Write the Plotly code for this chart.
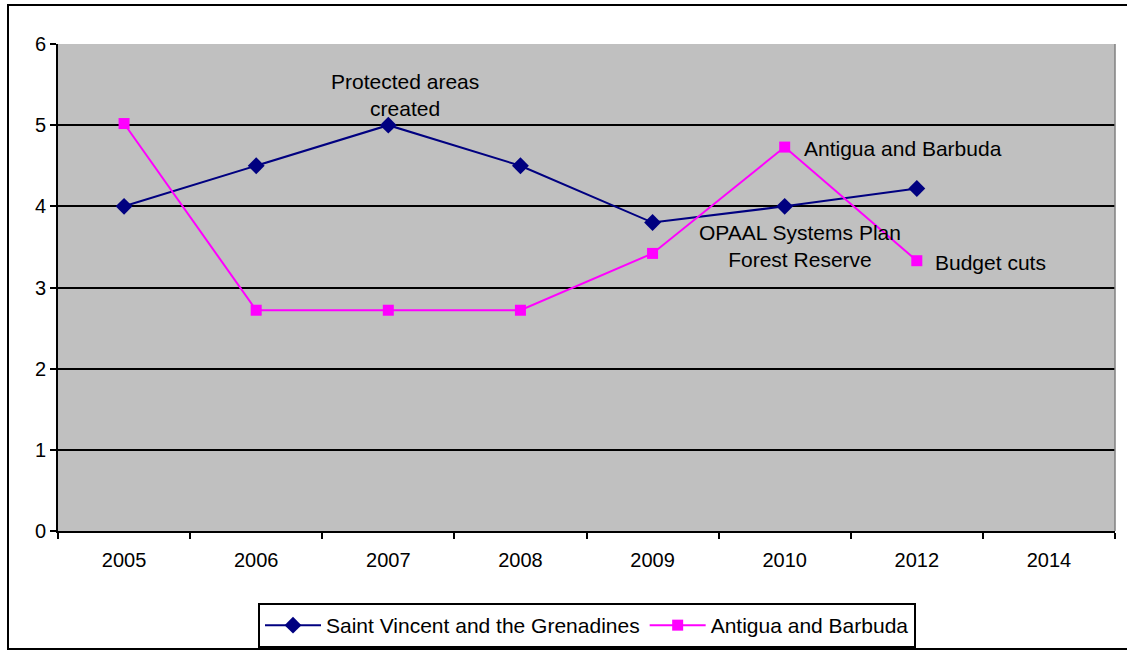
import plotly.graph_objects as go

years = ["2005", "2006", "2007", "2008", "2009", "2010", "2012", "2014"]
svg_values = [4.0, 4.5, 5.0, 4.5, 3.8, 4.0, 4.22, None]
ab_values = [5.02, 2.72, 2.72, 2.72, 3.42, 4.73, 3.33, None]
y_ticks = [0, 1, 2, 3, 4, 5, 6]

FONT = "Liberation Sans, Arial, sans-serif"
FS = 20
FS_TXT = 21

fig = go.Figure()
fig.add_trace(go.Scatter(
    x=years, y=svg_values, mode="lines+markers",
    name="Saint Vincent and the Grenadines",
    line=dict(color="#000080", width=2),
    marker=dict(symbol="diamond", size=13, color="#000080"),
))
fig.add_trace(go.Scatter(
    x=years, y=ab_values, mode="lines+markers",
    name="Antigua and Barbuda",
    line=dict(color="#FF00FF", width=2),
    marker=dict(symbol="square", size=11, color="#FF00FF"),
))

# annotation x given as category index (numeric-looking category names would be read as indices)
annotations = [
    dict(x=years.index("2007"), y=5.37, text="Protected areas<br>created", xshift=17, xanchor="center", yanchor="middle"),
    dict(x=years.index("2010"), y=4.71, text="Antigua and Barbuda", xshift=17, xanchor="left", yanchor="middle"),
    dict(x=years.index("2010"), y=3.51, text="OPAAL Systems Plan<br>Forest Reserve", xshift=15, xanchor="center", yanchor="middle"),
    dict(x=years.index("2012"), y=3.31, text="Budget cuts", xshift=16, xanchor="left", yanchor="middle"),
]
for a in annotations:
    a.update(showarrow=False, xref="x", yref="y", font=dict(family=FONT, size=FS_TXT, color="black"))

W, H = 1127, 652
L, R, T, B = 58, 12, 44, 121
pw = W - L - R
ph = H - T - B

fig.update_layout(
    width=W, height=H,
    margin=dict(l=L, r=R, t=T, b=B, autoexpand=False),
    paper_bgcolor="white",
    plot_bgcolor="#C0C0C0",
    font=dict(family=FONT, size=FS, color="black"),
    annotations=annotations,
    showlegend=True,
    legend=dict(
        orientation="h", x=(587 - L) / pw, xanchor="center",
        y=(T + ph - 603) / ph, yanchor="top",
        bgcolor="white", bordercolor="black", borderwidth=2,
        font=dict(family=FONT, size=FS_TXT, color="black"),
        itemwidth=56,
    ),
    xaxis=dict(
        type="category", categoryorder="array", categoryarray=years,
        range=[-0.5, len(years) - 0.5],
        tickson="boundaries", ticks="outside", ticklen=6, tickwidth=2, tickcolor="black",
        showline=True, linecolor="black", linewidth=2,
        showgrid=False, zeroline=False,
        ticklabelstandoff=10,
    ),
    yaxis=dict(
        range=[0, 6], tickvals=y_ticks,
        ticks="outside", ticklen=6, tickwidth=2, tickcolor="black",
        showline=True, linecolor="black", linewidth=2,
        showgrid=True, gridcolor="black", gridwidth=1.5,
        zeroline=False,
    ),
    shapes=[
        dict(type="rect", xref="paper", yref="paper",
             x0=(8 - L) / pw, x1=(1140 - L) / pw,
             y0=(T + ph - 649) / ph, y1=(T + ph - 5) / ph,
             line=dict(color="black", width=2), fillcolor="rgba(0,0,0,0)", layer="below"),
        dict(type="line", xref="paper", yref="paper", x0=1, x1=1, y0=0, y1=1,
             line=dict(color="#808080", width=1.5)),
    ],
)

fig.write_html(
    "out.html",
    config={"displayModeBar": False},
    post_script="document.body.style.margin='0';document.body.style.overflow='hidden';",
)
